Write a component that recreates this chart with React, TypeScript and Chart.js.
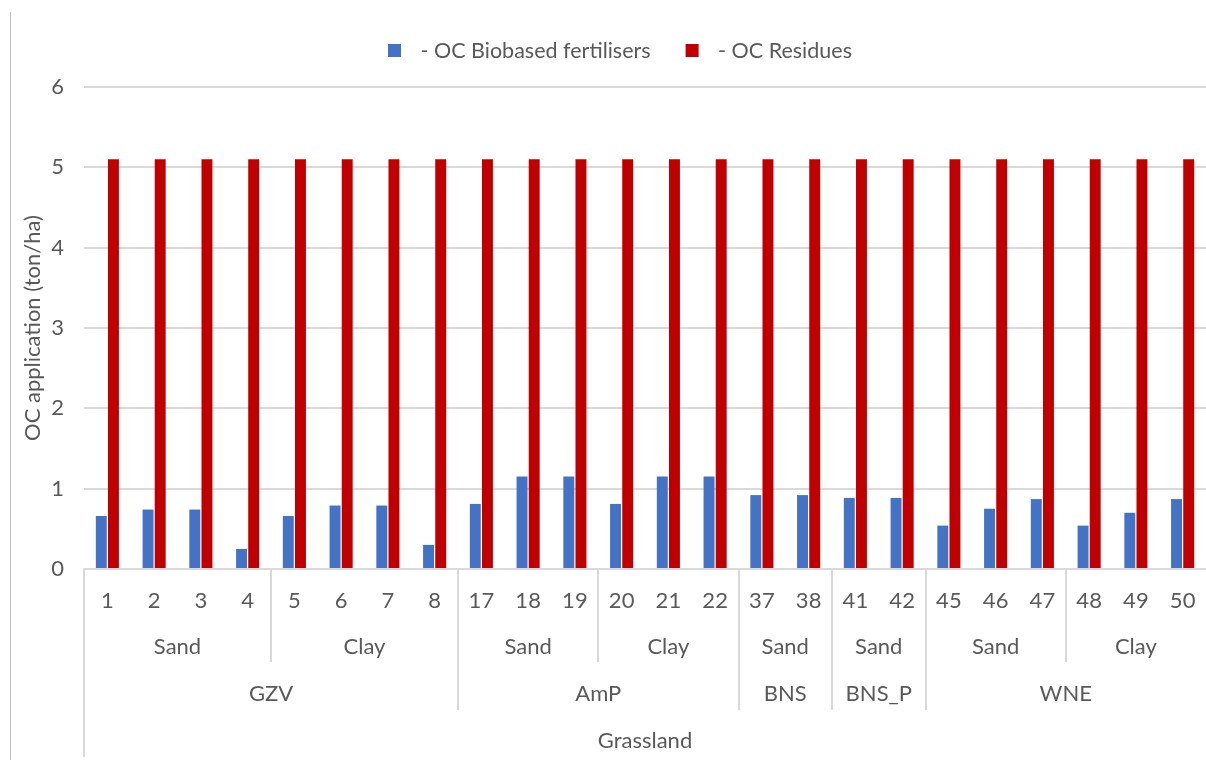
import React, { useEffect, useRef } from 'react';
import { Chart, registerables } from 'chart.js';

Chart.register(...registerables);

// ---- data ----
const categories = ['1', '2', '3', '4', '5', '6', '7', '8', '17', '18', '19', '20', '21', '22', '37', '38', '41', '42', '45', '46', '47', '48', '49', '50'];
const biobased = [0.66, 0.74, 0.74, 0.25, 0.66, 0.79, 0.79, 0.3, 0.81, 1.15, 1.15, 0.81, 1.15, 1.15, 0.92, 0.92, 0.885, 0.885, 0.54, 0.75, 0.87, 0.54, 0.7, 0.87];
const residues = [5.1, 5.1, 5.1, 5.1, 5.1, 5.1, 5.1, 5.1, 5.1, 5.1, 5.1, 5.1, 5.1, 5.1, 5.1, 5.1, 5.1, 5.1, 5.1, 5.1, 5.1, 5.1, 5.1, 5.1];
const soilLabels = ['Sand', 'Clay', 'Sand', 'Clay', 'Sand', 'Sand', 'Sand', 'Clay'];
const soilSpans = [4, 4, 3, 3, 2, 2, 3, 3];
const siteLabels = ['GZV', 'AmP', 'BNS', 'BNS_P', 'WNE'];
const siteSpans = [8, 6, 2, 2, 6];
const landLabels = ['Grassland'];
const landSpans = [24];
const seriesNames = [' - OC Biobased fertilisers', ' - OC Residues'];
const yTickMax = 6;
const yTickStep = 1;
const yTitle = 'OC application (ton/ha)';

const BLUE = '#4472C4';
const RED = '#C00000';
const TEXT = '#595959';
const LINE = '#d9d9d9';
const FONT = 'Lato';
const FS = 22;
const LEGEND_FS = 21.5;

function boundaries(spans: number[]): number[] {
  const out: number[] = [];
  let acc = 0;
  for (const s of spans) {
    acc += s;
    out.push(acc);
  }
  return out;
}

const customPlugin = {
  id: 'excelLike',
  beforeDraw(chart: any) {
    const ctx = chart.ctx as CanvasRenderingContext2D;
    ctx.save();
    ctx.fillStyle = '#ffffff';
    ctx.fillRect(0, 0, chart.width, chart.height);
    ctx.strokeStyle = '#bfbfbf';
    ctx.lineWidth = 1;
    ctx.beginPath();
    ctx.moveTo(10.5, 12);
    ctx.lineTo(10.5, chart.height);
    ctx.stroke();
    ctx.restore();
  },
  afterDraw(chart: any) {
    const ctx = chart.ctx as CanvasRenderingContext2D;
    const xs = chart.scales.x;
    const axisY = chart.chartArea.bottom;
    const step = xs.getPixelForValue(1) - xs.getPixelForValue(0);
    const edge = (i: number) => xs.getPixelForValue(0) - step / 2 + i * step;

    ctx.save();
    ctx.font = `${FS}px ${FONT}`;
    ctx.fillStyle = TEXT;
    ctx.textAlign = 'center';
    ctx.textBaseline = 'middle';

    // level 0: category numbers
    categories.forEach((c, i) => {
      ctx.fillText(c, xs.getPixelForValue(i), axisY + 32);
    });
    const drawLevel = (labels: string[], spans: number[], y: number) => {
      let start = 0;
      labels.forEach((l, k) => {
        const mid = (edge(start) + edge(start + spans[k])) / 2;
        ctx.fillText(l, mid, y);
        start += spans[k];
      });
    };
    drawLevel(soilLabels, soilSpans, axisY + 78);
    drawLevel(siteLabels, siteSpans, axisY + 125);
    drawLevel(landLabels, landSpans, axisY + 172);

    // separators
    const soilB = boundaries(soilSpans);
    const siteB = boundaries(siteSpans);
    ctx.strokeStyle = LINE;
    ctx.lineWidth = 2;
    for (let b = 0; b < categories.length; b++) {
      let depth = 0;
      if (b === 0) depth = 188;
      else if (siteB.includes(b)) depth = 141;
      else if (soilB.includes(b)) depth = 93;
      if (!depth) continue;
      const x = Math.round(edge(b));
      ctx.beginPath();
      ctx.moveTo(x, axisY);
      ctx.lineTo(x, axisY + depth);
      ctx.stroke();
    }

    // legend
    const colors = [BLUE, RED];
    let lx = 388;
    const ly = 50;
    ctx.font = `${LEGEND_FS}px ${FONT}`;
    ctx.textAlign = 'left';
    seriesNames.forEach((name, i) => {
      ctx.fillStyle = colors[i];
      ctx.fillRect(lx, ly - 6, 13, 13);
      ctx.fillStyle = TEXT;
      const tx = lx + 27;
      ctx.fillText(name, tx, ly + 1);
      lx = tx + ctx.measureText(name).width + 35;
    });
    ctx.restore();
  },
};

export default function App() {
  const canvasRef = useRef<HTMLCanvasElement | null>(null);

  useEffect(() => {
    document.body.style.margin = '0';
    let chart: Chart | null = null;
    let cancelled = false;
    const make = () => {
      if (cancelled || !canvasRef.current) return;
      chart = new Chart(canvasRef.current, {
        type: 'bar',
        data: {
          labels: categories,
          datasets: [
            { label: seriesNames[0], data: biobased, backgroundColor: BLUE, categoryPercentage: 0.52, barPercentage: 0.9 },
            { label: seriesNames[1], data: residues, backgroundColor: RED, categoryPercentage: 0.52, barPercentage: 0.9 },
          ],
        },
        options: {
          responsive: false,
          animation: false,
          devicePixelRatio: 1,
          layout: { padding: { top: 87, left: 0, right: 0, bottom: 0 } },
          plugins: {
            legend: { display: false },
            title: { display: false },
            tooltip: { enabled: false },
          },
          scales: {
            x: {
              ticks: { display: false },
              grid: { display: false },
              border: { display: true, color: LINE, width: 2 },
              afterFit: (s: any) => {
                s.height = 191;
              },
            },
            y: {
              min: 0,
              max: yTickMax,
              ticks: { stepSize: yTickStep, color: TEXT, font: { family: FONT, size: FS }, padding: 20 },
              grid: { color: LINE, lineWidth: 2, drawTicks: false },
              border: { display: false },
              title: {
                display: true,
                text: yTitle,
                color: TEXT,
                font: { family: FONT, size: FS },
                padding: { top: 20, bottom: 0 },
              },
              afterFit: (s: any) => {
                s.width = 84;
              },
            },
          },
        },
        plugins: [customPlugin],
      });
    };
    if ((document as any).fonts && (document as any).fonts.load) {
      (document as any).fonts.load(`${FS}px ${FONT}`).then(make, make);
    } else {
      make();
    }
    return () => {
      cancelled = true;
      if (chart) chart.destroy();
    };
  }, []);

  return (
    <div style={{ position: 'fixed', left: 0, top: 0, width: 1206, height: 760, background: '#fff' }}>
      <canvas ref={canvasRef} width={1206} height={760} style={{ display: 'block' }} />
    </div>
  );
}
